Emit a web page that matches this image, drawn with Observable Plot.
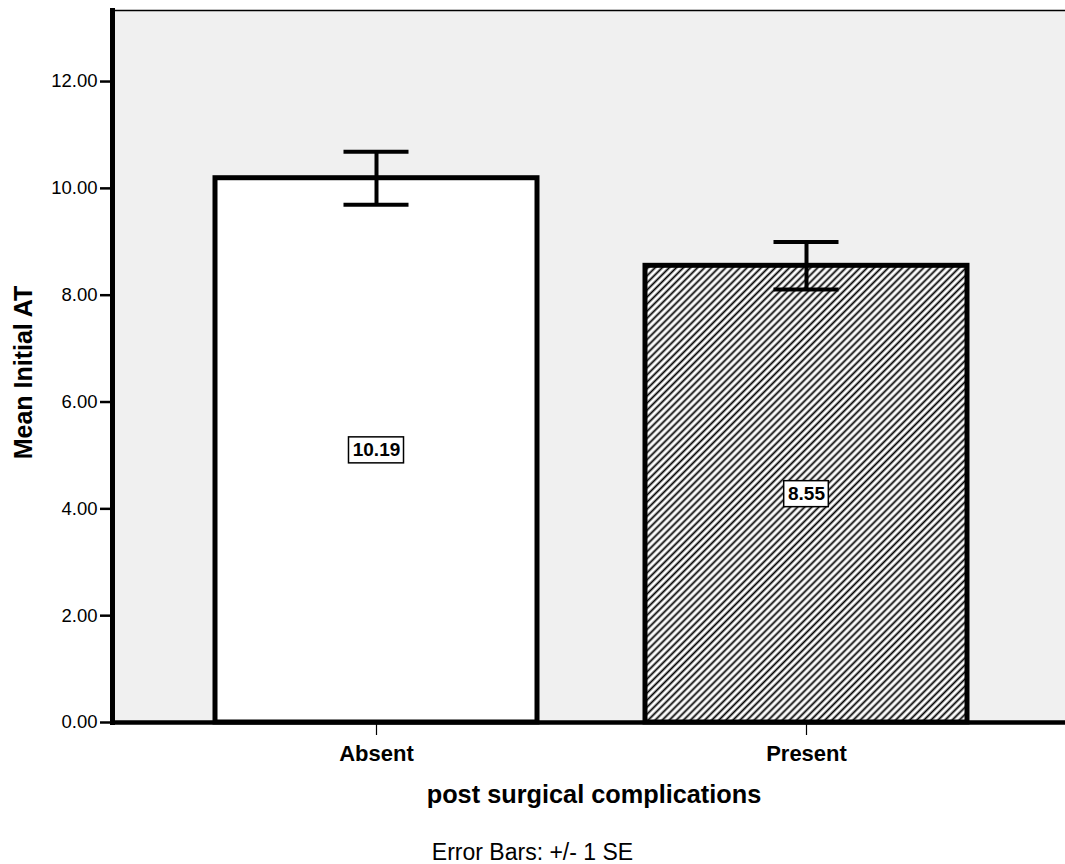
<!DOCTYPE html>
<html><head><meta charset="utf-8">
<script src="https://cdn.jsdelivr.net/npm/d3@7"></script>
<script src="https://cdn.jsdelivr.net/npm/@observablehq/plot@0.6"></script>
<style>
body{margin:0;background:#fff;font-family:"Liberation Sans",Arial,sans-serif;color:#000;}
#chart svg{display:block;}
#caption{width:1065px;text-align:center;font-size:23px;line-height:26px;margin-top:9px;color:#000;font-family:"Liberation Sans",Arial,sans-serif;}
</style></head><body>
<div id="chart"></div>
<div id="caption"></div>
<script>
// ---- data ----
const categories = ["Absent", "Present"];
const means = [10.19, 8.55];
const stdErrors = [0.495, 0.445];
const yTicks = [0, 2, 4, 6, 8, 10, 12];
const xTitle = "post surgical complications";
const yTitle = "Mean Initial AT";
const captionText = "Error Bars: +/- 1 SE";

const data = categories.map((c, i) => ({
  cat: c, mean: means[i], lo: means[i] - stdErrors[i], hi: means[i] + stdErrors[i],
  label: means[i].toFixed(2), half: means[i] / 2
}));

// ---- layout ----
const W = 1065, H = 830, mt = 10, mb = 108, ml = 112, mr = 0;
const yMax = 13.33;
const pxPerUnit = (H - mt - mb) / yMax;
const pInner = 0.2506, pOuter = 0.2309, alignX = 0.515;
const band = d3.scaleBand().domain(categories).range([ml, W - mr]).paddingInner(pInner).paddingOuter(pOuter).align(alignX);
const bw = band.bandwidth();
const boxHalf = 13 / pxPerUnit;
const boxW = d => d.label.length * 10.4 + 4;
const capW = 66;

const boxMarks = data.map(d => Plot.barY([d], {
  x: "cat", y1: v => v.half - boxHalf, y2: v => v.half + boxHalf,
  fill: "white", stroke: "black", strokeWidth: 1.5,
  insetLeft: (bw - boxW(d)) / 2, insetRight: (bw - boxW(d)) / 2
}));

const font = '"Liberation Sans", Arial, sans-serif';

const plot = Plot.plot({
  width: W, height: H,
  marginTop: mt, marginBottom: mb, marginLeft: ml, marginRight: mr,
  style: {fontFamily: font, color: "black", background: "white"},
  x: {domain: categories, paddingInner: pInner, paddingOuter: pOuter, align: alignX, label: null},
  y: {domain: [0, yMax], label: null},
  color: {type: "ordinal", domain: categories, range: ["white", "url(#hatch)"]},
  marks: [
    Plot.frame({fill: "#f0f0f0"}),
    Plot.barY(data, {x: "cat", y: "mean", fill: "cat", stroke: "black", strokeWidth: 5}),
    ...boxMarks,
    Plot.text(data, {x: "cat", y: "half", text: "label", fontSize: 19, fontWeight: "bold", fill: "black"}),
    Plot.ruleX(data, {x: "cat", y1: "lo", y2: "hi", stroke: "black", strokeWidth: 4}),
    Plot.tickY(data, {x: "cat", y: "lo", stroke: "black", strokeWidth: 4, insetLeft: (bw - capW) / 2, insetRight: (bw - capW) / 2}),
    Plot.tickY(data, {x: "cat", y: "hi", stroke: "black", strokeWidth: 4, insetLeft: (bw - capW) / 2, insetRight: (bw - capW) / 2}),
    Plot.axisY({ticks: yTicks, tickFormat: d => d.toFixed(2), tickSize: 12, tickPadding: 3, fontSize: 18.5, strokeWidth: 2.5, label: null}),
    Plot.axisX({tickSize: 13, tickPadding: 10, fontSize: 22, fontWeight: "bold", strokeWidth: 1.2, label: null}),
    Plot.frame({anchor: "top", stroke: "black", strokeWidth: 1.5}),
    Plot.frame({anchor: "left", stroke: "black", strokeWidth: 5}),
    Plot.ruleY([0], {stroke: "black", strokeWidth: 4.5}),
    Plot.text([yTitle], {text: d => d, frameAnchor: "left", textAnchor: "middle", lineAnchor: "middle", dx: -89, dy: 6, rotate: -90, fontSize: 25, fontWeight: "bold", fill: "black"}),
    Plot.text([xTitle], {text: d => d, frameAnchor: "bottom", textAnchor: "middle", lineAnchor: "middle", dx: 5, dy: 72, fontSize: 25.3, fontWeight: "bold", fill: "black"})
  ]
});

// hatch pattern definition
const ns = "http://www.w3.org/2000/svg";
const defs = document.createElementNS(ns, "defs");
defs.innerHTML = '<pattern id="hatch" patternUnits="userSpaceOnUse" width="5" height="5" patternTransform="rotate(45)">' +
  '<rect width="5" height="5" fill="white"/>' +
  '<line x1="2.5" y1="-1" x2="2.5" y2="6" stroke="black" stroke-width="1.8"/></pattern>';
plot.insertBefore(defs, plot.firstChild);

document.getElementById("chart").appendChild(plot);
document.getElementById("caption").textContent = captionText;
</script>
</body></html>
